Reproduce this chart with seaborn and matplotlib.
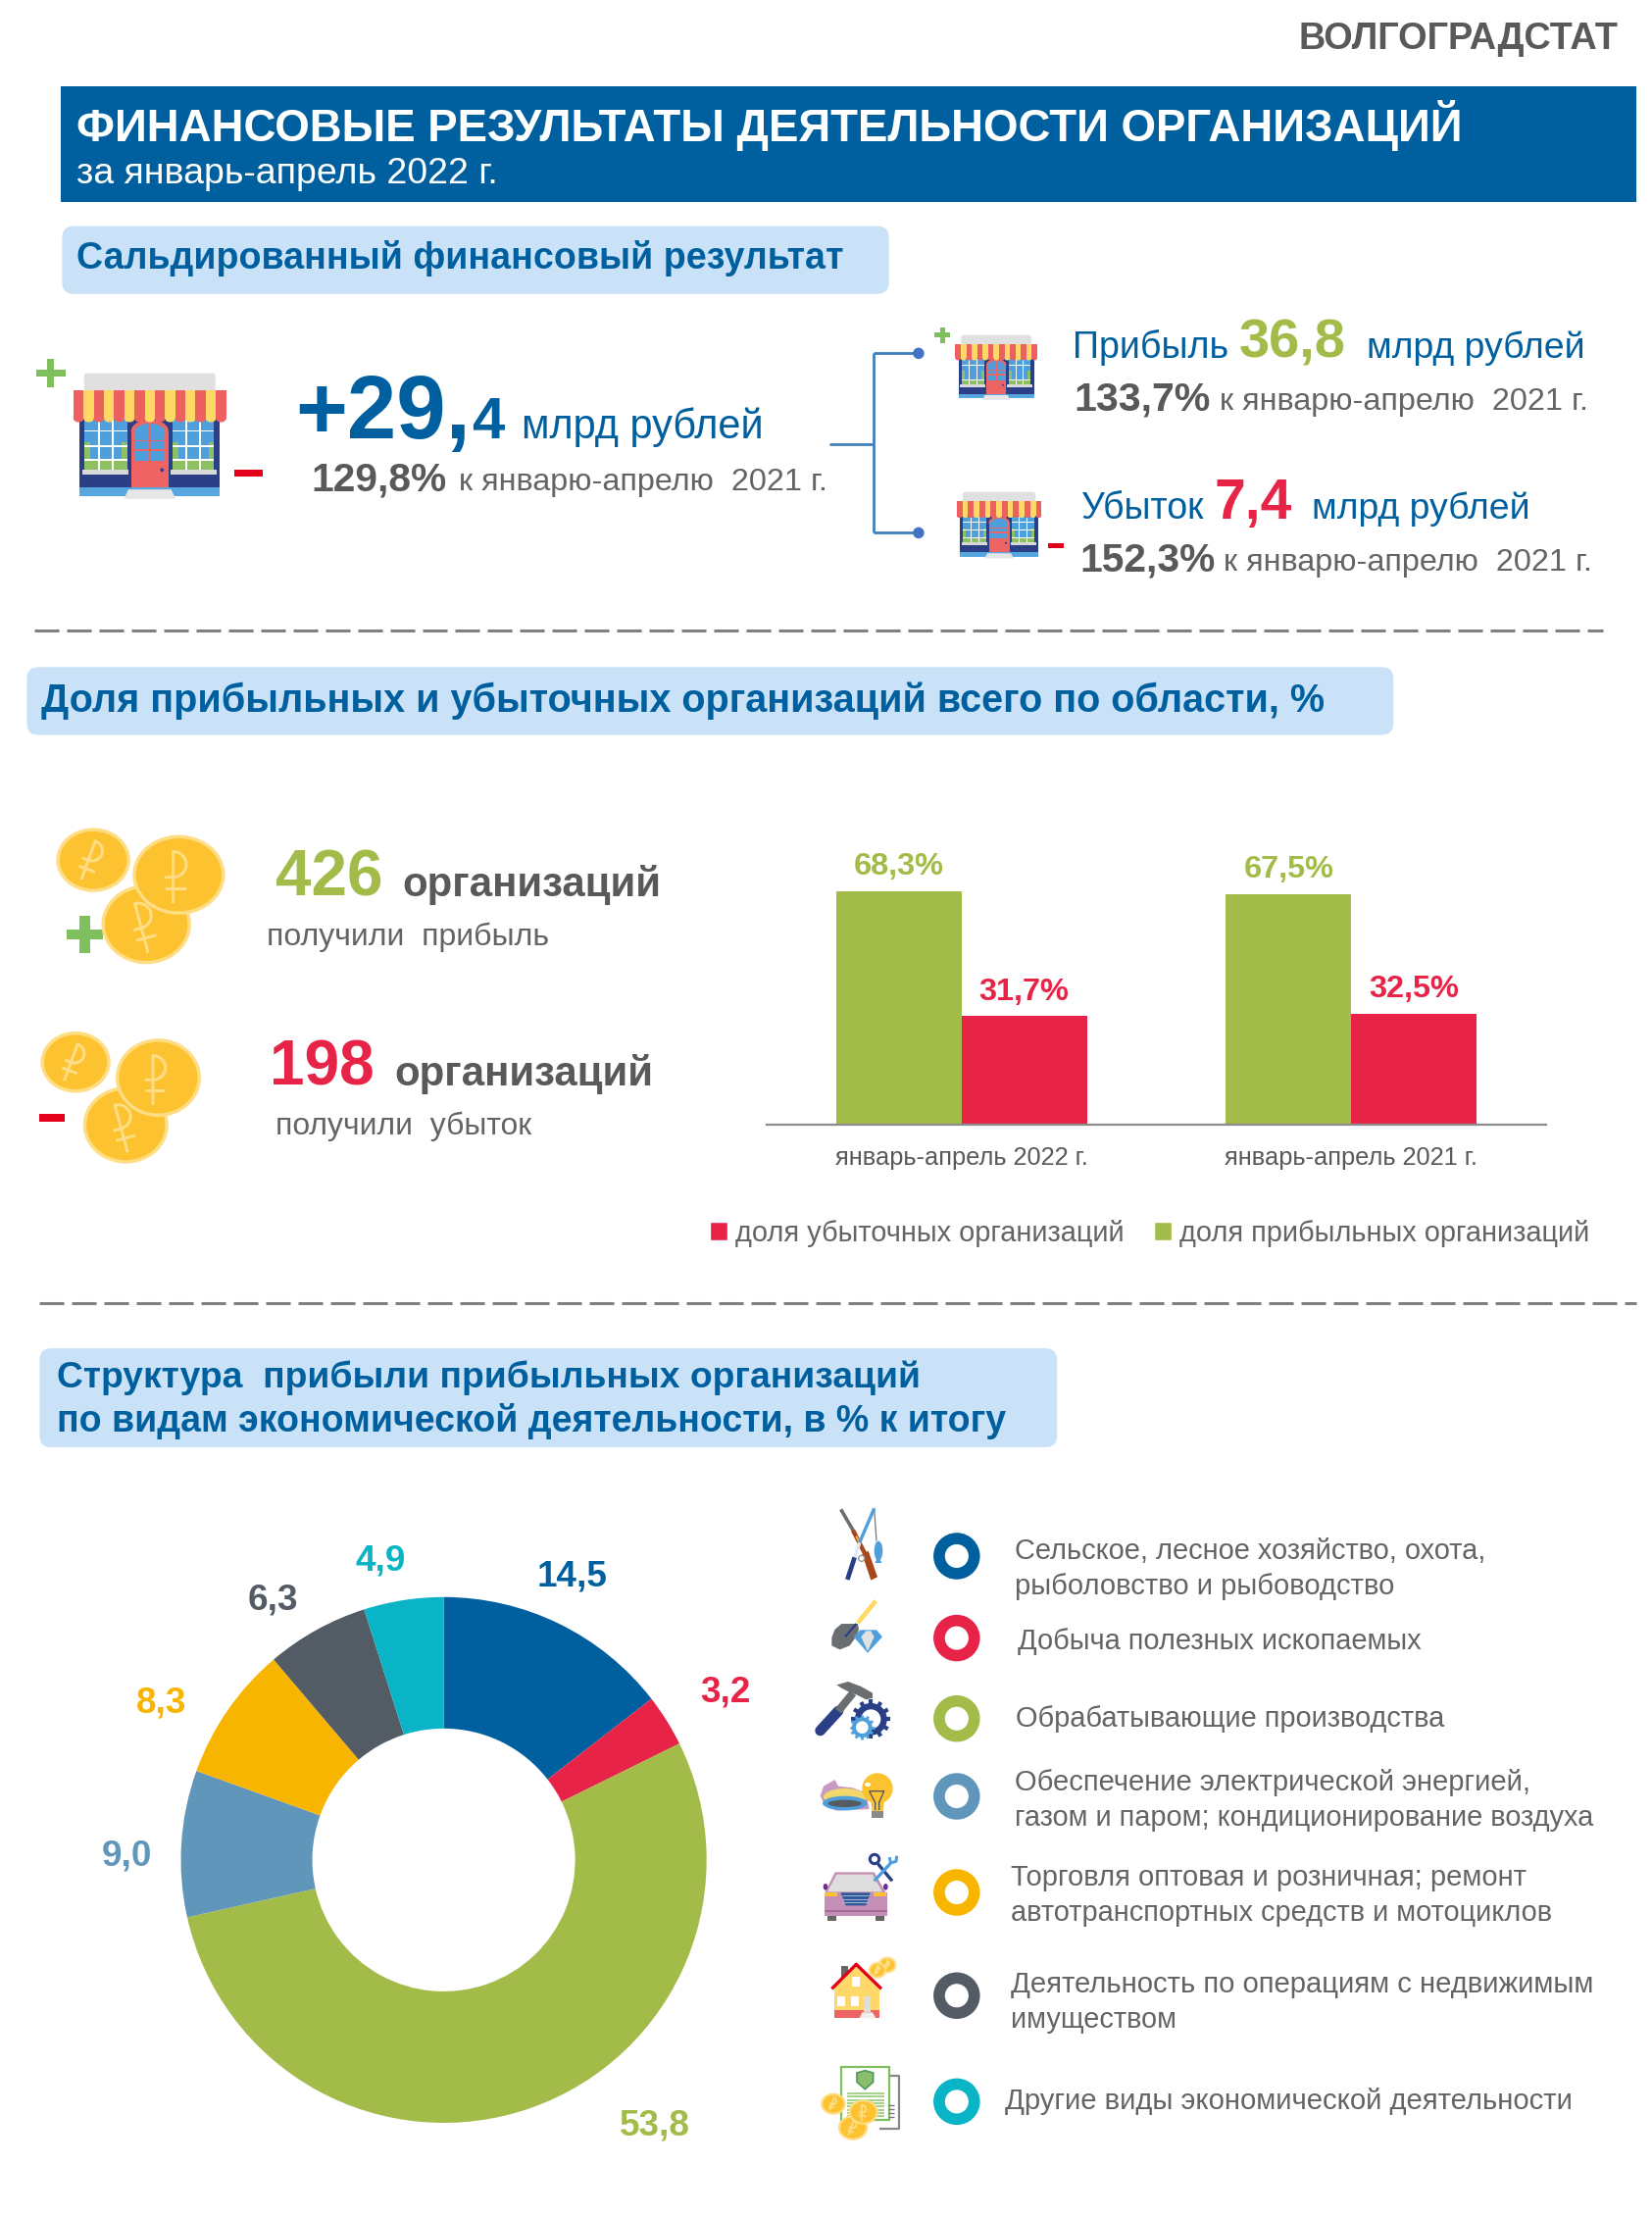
import numpy as np
import pandas as pd
import seaborn as sns
import matplotlib
matplotlib.use("Agg")
import matplotlib.pyplot as plt
from matplotlib.patches import Rectangle, FancyBboxPatch, Polygon, Ellipse, Circle, Patch

# ---------- data ----------
periods = ["январь-апрель 2022 г.", "январь-апрель 2021 г."]
profit_share = [68.3, 67.5]
loss_share = [31.7, 32.5]
share_names = ["доля прибыльных организаций", "доля убыточных организаций"]

sector_values = [14.5, 3.2, 53.8, 9.0, 8.3, 6.3, 4.9]
sector_labels = ["14,5", "3,2", "53,8", "9,0", "8,3", "6,3", "4,9"]
sector_colors = ["#00609F", "#E72447", "#A3BB49", "#6096BA", "#F8B500", "#535C65", "#08B4C6"]
sector_names = [
    ["Сельское, лесное хозяйство, охота,", "рыболовство и рыбоводство"],
    ["Добыча полезных ископаемых"],
    ["Обрабатывающие производства"],
    ["Обеспечение электрической энергией,", "газом и паром; кондиционирование воздуха"],
    ["Торговля оптовая и розничная; ремонт", "автотранспортных средств и мотоциклов"],
    ["Деятельность по операциям с недвижимым", "имуществом"],
    ["Другие виды экономической деятельности"],
]

BLUE, GRAY, GREEN, RED = "#00609F", "#58595B", "#A3BB49", "#E72447"
TXT = "#636466"
BOX = "#C9E2F7"
NAVY, SKY, COIN, RIM = "#2B3F87", "#4F9FDD", "#FDC22F", "#FEDD85"
S = 1685 / 1169

sns.set_theme(style="white")
plt.rcParams["font.family"] = ["Liberation Sans", "DejaVu Sans"]

fig = plt.figure(figsize=(16.85, 22.6), dpi=100, facecolor="white")
bg = fig.add_axes([0, 0, 1, 1])
bg.set_xlim(0, 1685)
bg.set_ylim(2260, 0)
bg.axis("off")
renderer = fig.canvas.get_renderer()


def T(x, y, s, width, color, weight="normal", ha="left", z=5):
    """Text at shown-scale x / baseline y, sized so that it spans `width` shown px."""
    t = bg.text(x * S, y * S, s, color=color, fontweight=weight, ha=ha, va="baseline", fontsize=20, zorder=z)
    w = t.get_window_extent(renderer).width
    t.set_fontsize(20 * width * S / w)
    return t


def R(x0, y0, x1, y1, c, z=2, ec="none", lw=0):
    bg.add_patch(Rectangle((x0 * S, y0 * S), (x1 - x0) * S, (y1 - y0) * S, fc=c, ec=ec, lw=lw, zorder=z))


def L(pts, c, lw, z=3, cap="butt"):
    bg.plot([p[0] * S for p in pts], [p[1] * S for p in pts], color=c, lw=lw, zorder=z, solid_capstyle=cap)


def PG(pts, c, z=3, ec="none", lw=0):
    bg.add_patch(Polygon([(x * S, y * S) for x, y in pts], closed=True, fc=c, ec=ec, lw=lw, zorder=z))


def EL(cx, cy, rx, ry, c, z=3, ec="none", lw=0):
    bg.add_patch(Ellipse((cx * S, cy * S), 2 * rx * S, 2 * ry * S, fc=c, ec=ec, lw=lw, zorder=z))


# helpers taking coordinates of a 3x crop of the reference with origin (ox, oy)
class Z:
    def __init__(self, ox, oy):
        self.ox, self.oy = ox, oy

    def p(self, x, y):
        return ((self.ox + x / 3) / S, (self.oy + y / 3) / S)

    def L(self, pts, c, lw, z=3, cap="butt"):
        L([self.p(*q) for q in pts], c, lw, z, cap)

    def PG(self, pts, c, z=3, ec="none", lw=0):
        PG([self.p(*q) for q in pts], c, z, ec, lw)

    def R(self, x0, y0, x1, y1, c, z=3, ec="none", lw=0):
        a, b = self.p(x0, y0), self.p(x1, y1)
        R(a[0], a[1], b[0], b[1], c, z, ec, lw)

    def EL(self, x, y, rx, ry, c, z=3, ec="none", lw=0):
        a = self.p(x, y)
        EL(a[0], a[1], rx / 3 / S, ry / 3 / S, c, z, ec, lw)

    def coin(self, x, y, rx, ry, ang, z=8):
        a = self.p(x - rx, y - ry)
        b = self.p(x + rx, y + ry)
        coin(a[0], a[1], b[0], b[1], ang, z, lw=1.6, sym=1.4)

    def gear(self, x, y, r, c, z=5, n=12, lw=2.4):
        for t in np.linspace(0, 2 * np.pi, n, endpoint=False):
            self.L([(x + .7 * r * np.cos(t), y + .7 * r * np.sin(t)),
                    (x + r * np.cos(t), y + r * np.sin(t))], c, lw, z)
        self.EL(x, y, .82 * r, .82 * r, c, z)
        self.EL(x, y, .5 * r, .5 * r, "white", z + .1)


def box(x0, y0, x1, y1):
    bg.add_patch(FancyBboxPatch((x0 * S + 12, y0 * S + 12), (x1 - x0) * S - 24, (y1 - y0) * S - 24,
                                boxstyle="round,pad=12,rounding_size=12", fc=BOX, ec="none", zorder=1))


def plus(cx, cy, w, t, c="#7FBF5E"):
    R(cx - w / 2, cy - t / 2, cx + w / 2, cy + t / 2, c, z=6)
    R(cx - t / 2, cy - w / 2, cx + t / 2, cy + w / 2, c, z=6)


def minus(cx, cy, w, t, c="#E2001A"):
    R(cx - w / 2, cy - t / 2, cx + w / 2, cy + t / 2, c, z=6)


def shop(x0, y0, x1, y1):
    w, h = x1 - x0, y1 - y0
    X = lambda u: x0 + u * w
    Y = lambda v: y0 + v * h
    B = lambda a, b, c, d, col, z=3: R(X(a), Y(b), X(c), Y(d), col, z=z)
    bg.add_patch(FancyBboxPatch((X(.07) * S + 3, Y(0) * S + 3), .86 * w * S - 6, .16 * h * S - 6,
                                boxstyle="round,pad=3,rounding_size=3", fc="#E0E0E0", ec="none", zorder=3))
    B(.04, .36, .96, .82, NAVY)
    for a, b, sa, sb in [(.074, .352, .059, .363), (.65, .92, .635, .94)]:
        B(a, .37, b, .775, SKY, 3.2)
        B(a, .70, b, .775, "#8DBF63", 3.4)
        B(a, .55, a + .035, .70, "#8DBF63", 3.4)
        B(b - .035, .55, b, .70, "#8DBF63", 3.4)
        for i in (1, 2):
            u = a + (b - a) * i / 3
            B(u - .006, .37, u + .006, .775, "white", 3.6)
        for v in (.46, .58, .69):
            B(a, v - .006, b, v + .006, "white", 3.6)
        B(sa, .765, sb, .81, "#D9D9D9", 3.8)
    B(.04, .81, .96, .91, NAVY)
    B(.04, .91, .96, .975, "#58A6DF")
    B(.378, .46, .622, .91, "#EE6464", 5)
    EL(X(.5), Y(.46), .122 * w, .09 * h, "#EE6464", 5)
    B(.40, .47, .60, .60, SKY, 6)
    EL(X(.5), Y(.47), .10 * w, .07 * h, SKY, 6)
    B(.40, .62, .60, .70, SKY, 6)
    B(.495, .40, .505, .71, "#EE6464", 7)
    B(.40, .535, .60, .545, "#EE6464", 7)
    EL(X(.58), Y(.77), .012 * w, .012 * w, NAVY, 7)
    PG([(X(.36), Y(.925)), (X(.64), Y(.925)), (X(.67), Y(1.0)), (X(.33), Y(1.0))], "#E6E6E6", z=6)
    n = 15
    for i in range(n):
        c = "#EE6060" if i % 2 == 0 else "#FFD966"
        a, b = i / n, (i + 1) / n
        B(a, .14, b, .36, c, 8)
        EL(X((a + b) / 2), Y(.36), w / n / 2, .03 * h, c, 8)


def coin(x0, y0, x1, y1, ang, z=8, lw=2.5, sym=2.2):
    cx, cy, rx, ry = (x0 + x1) / 2, (y0 + y1) / 2, (x1 - x0) / 2, (y1 - y0) / 2
    bg.add_patch(Ellipse((cx * S, cy * S), 2 * rx * S, 2 * ry * S, fc=COIN, ec=RIM, lw=lw, zorder=z))
    a = np.deg2rad(ang)
    r = (rx + ry) / 2 * 1.15
    rot = lambda u, v: (cx + r * (u * np.cos(a) - v * np.sin(a)), cy + r * (u * np.sin(a) + v * np.cos(a)))
    arc = [(-.12 + .28 * np.cos(t), -.22 + .27 * np.sin(t)) for t in np.linspace(-np.pi / 2, np.pi / 2, 14)]
    L([rot(-.12, .6), rot(-.12, -.49)] + [rot(*p) for p in arc] + [rot(-.3, .05)], RIM, sym, z=z + .5)
    L([rot(-.3, .28), rot(.15, .28)], RIM, sym, z=z + .5)


# ---------- header ----------
T(1145, 35, "ВОЛГОГРАДСТАТ", 226, "#58595B", "bold", ha="right")
R(43, 61, 1158, 143, BLUE, z=1)
T(54, 100, "ФИНАНСОВЫЕ РЕЗУЛЬТАТЫ ДЕЯТЕЛЬНОСТИ ОРГАНИЗАЦИЙ", 982, "white", "bold")
T(54, 130, "за январь-апрель 2022 г.", 297, "white")

# ---------- section 1 ----------
box(44, 160, 629, 208)
T(54, 190, "Сальдированный финансовый результат", 541, BLUE, "bold")
shop(94 / S, 381 / S, 229 / S, 508 / S) if False else shop(52, 264, 160, 353)
plus(36, 264, 20.5, 5)
minus(176, 335, 20.5, 5)
T(209, 310, "+29,", 124, BLUE, "bold")
T(334, 310, "4", 23, BLUE, "bold")
T(369, 310, "млрд рублей", 171, BLUE)
T(220, 347, "129,8%", 96, GRAY, "bold")
T(325, 347, "к январю-апрелю  2021 г.", 261, TXT)

LC = "#3F7FBF"
L([(587, 314), (618, 314)], LC, 2)
L([(618, 250), (618, 377)], LC, 2)
L([(618, 250), (650, 250)], LC, 2)
L([(618, 377), (650, 377)], LC, 2)
EL(650, 250, 4, 4, "#4472C4", z=4)
EL(650, 377, 4, 4, "#4472C4", z=4)

shop(676, 237, 734, 283)
plus(667, 237, 11, 3.5)
shop(677, 348, 737, 395)
minus(747, 386, 11, 3.5)
T(759, 253, "Прибыль", 110, BLUE)
T(877, 253, "36,8", 76, GREEN, "bold")
T(967, 253, "млрд рублей", 154, BLUE)
T(760, 290, "133,7%", 97, GRAY, "bold")
T(863, 290, "к январю-апрелю  2021 г.", 261, TXT)
T(765, 367, "Убыток", 87, BLUE)
T(859, 367, "7,4", 55, RED, "bold")
T(928, 367, "млрд рублей", 154, BLUE)
T(764, 404, "152,3%", 96, GRAY, "bold")
T(866, 404, "к январю-апрелю  2021 г.", 261, TXT)

bg.plot([35, 1635], [643, 643], color="#808080", lw=2.2, dashes=(8.2, 2.6), zorder=2)
bg.plot([40, 1669], [1329, 1329], color="#808080", lw=2.2, dashes=(8.2, 2.6), zorder=2)

# ---------- section 2 ----------
box(19, 472, 986, 520)
T(29, 504, "Доля прибыльных и убыточных организаций всего по области, %", 909, BLUE, "bold")

coin(41, 587, 91, 630, 20, z=8)
coin(73, 627, 134, 681, -15, z=8)
coin(95, 592, 158, 646, 0, z=9)
plus(60, 661, 26, 7)
coin(30, 731, 77, 772, 20, z=8)
coin(60, 770, 118, 822, -15, z=8)
coin(83, 736, 141, 789, 0, z=9)
minus(37, 791, 18, 6)

T(195, 634, "426", 76, GREEN, "bold")
T(285, 634, "организаций", 183, GRAY, "bold")
T(189, 669, "получили  прибыль", 199, TXT)
T(191, 768, "198", 74, RED, "bold")
T(279, 768, "организаций", 183, GRAY, "bold")
T(195, 803, "получили  убыток", 181, TXT)

# bar chart
bar_df = pd.DataFrame({
    "period": periods * 2,
    "share": profit_share + loss_share,
    "kind": [share_names[0]] * 2 + [share_names[1]] * 2,
})
x0, x1, ybase, ytop = 782, 1577, 1147, 868
axb = fig.add_axes([x0 / 1685, 1 - ybase / 2260, (x1 - x0) / 1685, (ybase - ytop) / 2260])
sns.barplot(data=bar_df, x="period", y="share", hue="kind", hue_order=share_names,
            palette=[GREEN, RED], width=0.644, gap=0, saturation=1, legend=False, linewidth=0, ax=axb)
axb.set_ylim(0, 80)
axb.set_xlim(-0.5, 1.5)
axb.patch.set_alpha(0)
axb.set_xlabel("")
axb.set_ylabel("")
axb.set_yticks([])
for s in ("top", "left", "right"):
    axb.spines[s].set_visible(False)
axb.spines["bottom"].set_color("#8C8C8C")
axb.spines["bottom"].set_linewidth(1.6)
axb.tick_params(axis="x", length=0, pad=16, labelsize=18.3, labelcolor="#595959")
fmt = lambda v: f"{v:.1f}%".replace(".", ",")
for cont, col in zip(axb.containers, [GREEN, RED]):
    axb.bar_label(cont, fmt=fmt, color=col, fontweight="bold", fontsize=23.4, padding=7)
axb.legend(handles=[Patch(fc=RED, label=share_names[1]), Patch(fc=GREEN, label=share_names[0])],
           loc="center left", bbox_to_anchor=(724 / 1685, 1 - 1258 / 2260), bbox_transform=fig.transFigure,
           ncol=2, frameon=False, fontsize=20.9, labelcolor=TXT, handlelength=0.62, handleheight=0.62,
           handletextpad=0.28, columnspacing=1.05, borderpad=0, borderaxespad=0)

# ---------- section 3 ----------
box(28, 954, 748, 1024)
T(40, 982, "Структура  прибыли прибыльных организаций", 609, BLUE, "bold")
T(40, 1013, "по видам экономической деятельности, в % к итогу", 672, BLUE, "bold")

cx, cy, rad = 314 * S, 1316 * S, 186 * S
axp = fig.add_axes([(cx - rad) / 1685, 1 - (cy + rad) / 2260, 2 * rad / 1685, 2 * rad / 2260])
axp.pie(sector_values, colors=sns.color_palette(sector_colors), startangle=90, counterclock=False,
        radius=1, wedgeprops=dict(width=0.5, linewidth=0))
axp.set_xlim(-1, 1)
axp.set_ylim(-1, 1)

label_xy = [(405, 1122), (513, 1204), (463, 1511), (90, 1320), (114, 1212), (193, 1139), (269, 1111)]
for (lx, ly), lab, col in zip(label_xy, sector_labels, sector_colors):
    bg.text(lx * S, ly * S, lab, color=col, fontsize=26.6, fontweight="bold", ha="center", va="baseline", zorder=5)

# legend rings + text
ring_y = [1101, 1159, 1216, 1271, 1339, 1412, 1487]
text_x = [718, 720, 719, 718, 715, 715, 711]
text_y = [1103, 1167, 1222, 1267, 1334, 1410, 1492]
text_w = [[333, 268], [286], [303], [364, 410], [364, 384], [411, 117], [401]]
for ry, tx, ty, names, ws, col in zip(ring_y, text_x, text_y, sector_names, text_w, sector_colors):
    bg.add_patch(Circle((677 * S, ry * S), 17.9, fc="white", ec=col, lw=8.4, zorder=4))
    for i, (n, w) in enumerate(zip(names, ws)):
        T(tx, ty + i * 25, n, w, TXT)

# ---------- legend icons (coordinates of 3x crops of the reference) ----------
a = Z(820, 1530)
# rifle and rod
a.L([(113, 28), (155, 100)], "#6B6E70", 2.6)
a.L([(150, 92), (190, 170)], "#A8481A", 3.2)
a.L([(160, 110), (172, 133)], "#F3B33D", 1.6, z=4)
a.PG([(178, 165), (197, 155), (225, 235), (205, 245)], "#A8481A")
a.L([(215, 25), (170, 130)], SKY, 2.4, z=4)
a.L([(170, 130), (155, 175)], "#DDEBF7", 2.6, z=4)
a.L([(155, 175), (133, 243)], NAVY, 3.4, z=4)
a.L([(215, 25), (222, 125)], "#777777", .9)
a.EL(176, 178, 9, 9, "white", z=5, ec="#999999", lw=1)
a.EL(228, 155, 13, 30, SKY)
a.PG([(217, 192), (238, 192), (228, 170)], SKY)
# shovel and diamond
a.L([(220, 308), (165, 375)], "#FFD966", 3.4)
a.PG([(115, 378), (165, 378), (168, 395), (158, 420), (140, 445), (110, 457), (85, 445), (85, 420), (95, 395)], "#6B6E70")
a.L([(160, 378), (126, 418)], NAVY, 1.6, z=4)
a.PG([(172, 397), (222, 397), (240, 418), (195, 467), (152, 418)], SKY, z=4)
a.PG([(190, 400), (205, 400), (215, 418), (195, 462), (175, 418)], "#E2E2E2", z=5)
# hammer and gears
a.L([(50, 705), (105, 645)], NAVY, 7.7, cap="round")
a.L([(105, 645), (150, 590)], "#6B6E70", 5.8)
a.PG([(100, 565), (135, 555), (175, 570), (210, 590), (210, 605), (190, 610), (165, 597), (135, 585), (115, 575)], "#6B6E70", z=4)
a.gear(205, 670, 60, NAVY, z=5, lw=3)
a.gear(178, 695, 38, SKY, z=6, lw=2)

b = Z(820, 1790)
# burner and bulb
b.PG([(50, 125), (60, 95), (95, 75), (105, 95), (150, 100), (190, 115), (200, 165), (100, 170), (65, 155)], "#C79AC1")
b.EL(125, 128, 65, 26, "#F2D86A", z=3.2)
b.EL(125, 147, 68, 22, SKY, z=3.4)
b.EL(125, 148, 52, 11, "#555B60", z=3.6)
b.PG([(205, 140), (245, 140), (242, 172), (208, 172)], COIN, z=4)
b.EL(225, 102, 47, 47, COIN, z=4)
b.R(207, 170, 242, 192, "#8A8A8A", z=4)
b.L([(200, 110), (218, 145), (218, 168)], "#55595D", 1, z=5)
b.L([(200, 110), (245, 110), (230, 145), (230, 168)], "#55595D", 1, z=5)
b.EL(195, 90, 9, 6, "white", z=5)
# car and scissors
b.PG([(62, 425), (95, 358), (215, 358), (253, 425)], "#C48FB4")
b.PG([(72, 418), (100, 365), (210, 365), (240, 418)], "#DEDEDE", z=4)
b.R(62, 420, 255, 492, "#C48FB4", z=3)
b.R(62, 474, 255, 480, "#A8689A", z=3.5)
b.R(62, 421, 102, 432, COIN, z=4)
b.R(214, 421, 252, 432, COIN, z=4)
b.PG([(113, 421), (203, 421), (190, 460), (128, 460)], "#2F5597", z=4)
for yy in (430, 440, 450):
    b.L([(118, yy), (198, yy)], "#9DB5D8", .8, z=5)
b.R(72, 492, 98, 506, "#666666")
b.R(218, 492, 245, 506, "#666666")
b.EL(66, 403, 7, 10, "#6A2D91")
b.EL(250, 403, 7, 10, "#6A2D91")
b.L([(226, 332), (270, 385)], NAVY, 2.4, z=5)
b.L([(264, 332), (215, 385)], SKY, 2.4, z=6)
b.EL(216, 318, 14, 14, "none", z=5, ec=NAVY, lw=2.2)
b.L([(262, 312), (265, 330), (282, 325), (284, 308)], SKY, 2.2, z=6)
# house
b.R(92, 705, 230, 805, "#FFD86B")
b.R(92, 780, 230, 805, "#EE6464", z=4)
b.R(115, 645, 135, 690, "#666666", z=2)
b.PG([(85, 715), (160, 640), (237, 715)], "#FFD86B", ec="none")
b.L([(85, 715), (160, 640), (237, 715)], "#E2001A", 2.4, z=4)
for wx0, wy0 in [(148, 678), (103, 738), (143, 738)]:
    b.R(wx0, wy0, wx0 + 24, wy0 + 30, "white", z=5)
b.R(183, 738, 205, 785, "#DDDDDD", z=5)
b.PG([(178, 787), (210, 787), (220, 805), (170, 805)], "#EEEEEE", z=5)
b.coin(255, 642, 25, 22, 15, z=6)
b.coin(225, 658, 24, 22, 15, z=7)
# document and coins
b.L([(260, 980), (292, 980), (292, 1142), (232, 1142)], "#888888", 1.6, z=2)
b.R(115, 955, 260, 1117, "white", z=3, ec="#7FBF5E", lw=1.6)
b.PG([(162, 972), (187, 965), (212, 972), (212, 1000), (187, 1022), (162, 1000)], "#8BBE6A", z=4, ec="#4F9A5C", lw=1.2)
for yy in range(1035, 1110, 10):
    b.L([(132, yy), (245, yy)], "#8BC56A", 1.1, z=4)
for yy in (1072, 1084, 1096, 1106):
    b.L([(258, yy), (275, yy)], "#777777", 1, z=4)
b.coin(90, 1067, 35, 30, 20, z=6)
b.coin(150, 1140, 42, 35, 20, z=7)
b.coin(182, 1092, 42, 35, 0, z=8)

fig.savefig("out.png", dpi=100, facecolor="white")
